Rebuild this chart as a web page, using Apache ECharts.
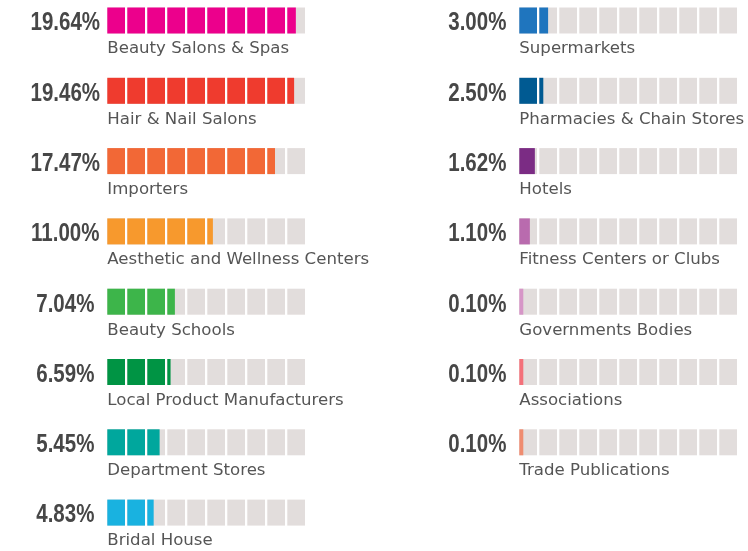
<!DOCTYPE html>
<html>
<head>
<meta charset="utf-8">
<script src="https://cdn.jsdelivr.net/npm/echarts@6/dist/echarts.min.js"></script>
<style>
html,body{margin:0;padding:0;background:#fff;}
#chart{width:748px;height:551px;}
</style>
</head>
<body>
<div id="chart"></div>
<script>
// ---- data ----
var leftCategories = ['Beauty Salons & Spas', 'Hair & Nail Salons', 'Importers', 'Aesthetic and Wellness Centers', 'Beauty Schools', 'Local Product Manufacturers', 'Department Stores', 'Bridal House'];
var leftValues = [19.64, 19.46, 17.47, 11.00, 7.04, 6.59, 5.45, 4.83];
var leftColors = ['#EC008C', '#EF3B2E', '#F26836', '#F7992D', '#3DB54A', '#009444', '#00A79D', '#19B2E0'];

var rightCategories = ['Supermarkets', 'Pharmacies & Chain Stores', 'Hotels', 'Fitness Centers or Clubs', 'Governments Bodies', 'Associations', 'Trade Publications'];
var rightValues = [3.00, 2.50, 1.62, 1.10, 0.10, 0.10, 0.10];
var rightColors = ['#1F75BE', '#005A92', '#7B2C84', '#B96BAE', '#D696C7', '#F4717A', '#EF8C70'];

var leftMax = 20, rightMax = 22;
var leftSegments = 10, rightSegments = 11;
var rowSlots = ['0', '1', '2', '3', '4', '5', '6', '7'];

// ---- style ----
var GRAY = '#E2DDDC';
var SEG_W = 17.7, PITCH = 20, BAR_H = 26, MIN_FILL = 4;
var PCT_FONT = "bold 25px 'Liberation Sans', Arial, sans-serif";
var NAME_FONT = "16.6px 'DejaVu Sans', sans-serif";

function makeRender(names, nSeg) {
  return function (params, api) {
    var v = api.value(0), idx = api.value(1);
    var p0 = api.coord([0, idx]);
    var x0 = p0[0], yc = p0[1];
    var len = Math.max(api.coord([v, idx])[0] - x0, MIN_FILL);
    var color = api.visual('color');
    var children = [];
    for (var i = 0; i < nSeg; i++) {
      var sx = x0 + i * PITCH;
      children.push({type: 'rect', shape: {x: sx, y: yc - BAR_H / 2, width: SEG_W, height: BAR_H}, style: {fill: GRAY}});
      var fw = Math.min(SEG_W, x0 + len - sx);
      if (fw > 0) {
        children.push({type: 'rect', shape: {x: sx, y: yc - BAR_H / 2, width: fw, height: BAR_H}, style: {fill: color}});
      }
    }
    children.push({type: 'text', x: x0 - 42, y: yc + 3, scaleX: 0.82, style: {text: v.toFixed(2) + '%', x: 0, y: 0, align: 'center', verticalAlign: 'middle', font: PCT_FONT, fill: '#474747'}});
    children.push({type: 'text', style: {text: names[params.dataIndex], x: x0, y: yc + 28.5, align: 'left', verticalAlign: 'middle', font: NAME_FONT, fill: '#555555'}});
    return {type: 'group', children: children};
  };
}

function buildData(values, colors) {
  return values.map(function (v, i) {
    return {value: [v, i], itemStyle: {color: colors[i]}};
  });
}

var chart = echarts.init(document.getElementById('chart'), null, {renderer: 'canvas'});
chart.setOption({
  animation: false,
  grid: [
    {left: 107.3, top: 20.5, width: 192, height: 492.1},
    {left: 519.3, top: 20.5, width: 211.2, height: 492.1}
  ],
  xAxis: [
    {type: 'value', gridIndex: 0, min: 0, max: leftMax, show: false},
    {type: 'value', gridIndex: 1, min: 0, max: rightMax, show: false}
  ],
  yAxis: [
    {type: 'category', gridIndex: 0, data: rowSlots, inverse: true, boundaryGap: false, show: false},
    {type: 'category', gridIndex: 1, data: rowSlots, inverse: true, boundaryGap: false, show: false}
  ],
  series: [
    {type: 'custom', xAxisIndex: 0, yAxisIndex: 0, clip: false, renderItem: makeRender(leftCategories, leftSegments), data: buildData(leftValues, leftColors)},
    {type: 'custom', xAxisIndex: 1, yAxisIndex: 1, clip: false, renderItem: makeRender(rightCategories, rightSegments), data: buildData(rightValues, rightColors)}
  ]
});
</script>
</body>
</html>
